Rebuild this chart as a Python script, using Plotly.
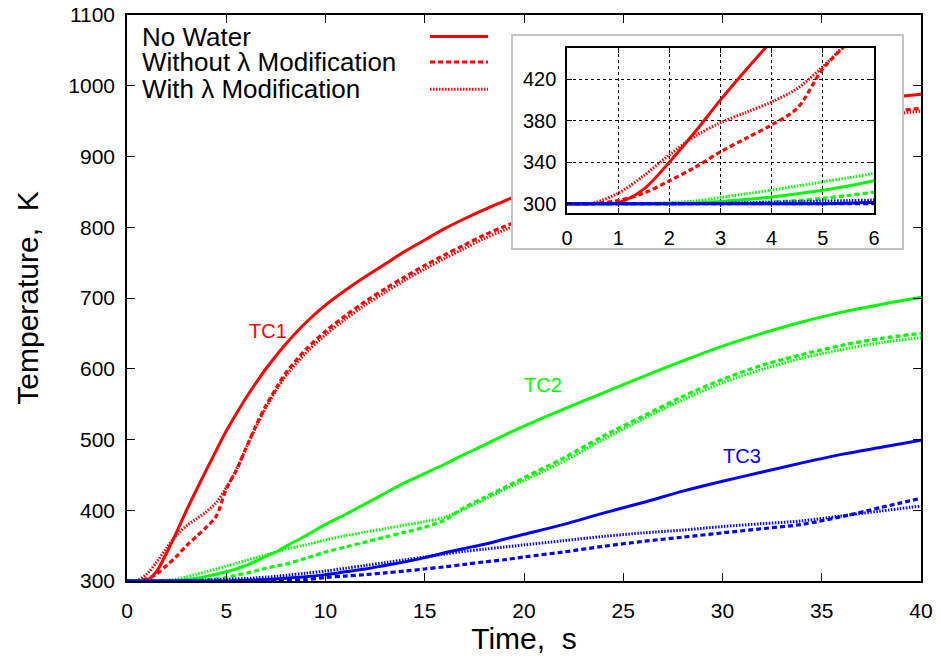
import plotly.graph_objects as go

# Time grid, s
time_s = [0, 0.5, 1, 1.5, 2, 2.5, 3, 3.5, 4, 4.5, 5, 5.5, 6, 6.5, 7, 7.5, 8,
          9, 10, 11, 12, 13, 14, 15, 16, 17, 18, 19, 20,
          22, 24, 26, 28, 30, 32, 34, 36, 38, 40]

# TC1 temperatures, K
tc1_no_water = [300, 300, 301, 314, 340, 369, 400, 429, 457, 485, 512, 536, 559, 580, 600, 618, 635,
                665, 690, 711, 730, 748, 766, 782, 798, 812, 825, 837, 849,
                872, 893, 912, 929, 944, 957, 967, 975, 982, 988]
tc1_without_mod = [300, 300, 303, 310, 322, 335, 350, 363, 376, 392, 430, 456, 488, 520, 548, 572, 594,
                   627, 653, 675, 695, 713, 730, 746, 761, 775, 789, 801, 812,
                   839, 863, 884, 904, 920, 934, 945, 954, 962, 968]
tc1_with_mod = [300, 300.5, 310, 327, 347, 365, 378, 388, 398, 411, 432, 457, 488, 518, 545, 569, 590,
                622, 648, 670, 690, 708, 725, 741, 756, 770, 784, 796, 807,
                834, 858, 879, 899, 915, 929, 940, 950, 958, 964]

# TC2 temperatures, K
tc2_no_water = [300, 300, 300, 300, 300, 300.5, 302, 304, 306.5, 309.5, 313, 317, 322, 328, 335, 341, 349,
                364, 380, 394, 409, 424, 439, 452, 465, 479, 492, 506, 519,
                543, 566, 589, 611, 632, 650, 666, 680, 691, 701]
tc2_without_mod = [300, 300, 300, 300, 300, 300, 300, 300.5, 301.5, 303, 305, 308, 311, 314.5, 318, 321, 324,
                   332, 341, 348, 355, 362, 369, 376, 386, 404, 418, 432, 446,
                   474, 505, 533, 561, 585, 605, 620, 633, 643, 650]
tc2_with_mod = [300, 300, 300, 300, 301, 302.5, 306, 309.5, 313, 317, 321, 325, 329, 333, 337, 341, 345,
                351, 358, 364, 369, 374, 379, 384, 390, 402, 415, 429, 442,
                469, 500, 529, 556, 580, 599, 615, 627, 637, 644]

# TC3 temperatures, K
tc3_no_water = [300, 300, 300, 300, 300, 300, 300, 300, 300, 300, 300, 300.5, 301, 301.5, 302, 303, 304,
                306, 309, 313, 317, 322, 327, 333, 340, 346, 352, 359, 366,
                380, 396, 411, 427, 441, 454, 467, 479, 489, 499]
tc3_without_mod = [300, 300, 300, 300, 300, 300, 300, 300, 300, 300, 300, 300, 300, 300, 300, 300, 301,
                   302, 305, 307, 309, 311.5, 314, 317, 320, 323.5, 327, 330, 334,
                   341, 349, 356, 362, 368, 374, 380, 391, 404, 417]
tc3_with_mod = [300, 300, 300, 300, 300, 300, 300.5, 301, 301.5, 302, 302.5, 303, 303.5, 304.5, 305.5, 306.5, 308,
                311, 314, 318, 322, 326, 330, 334, 338, 342, 345, 348, 351,
                357, 363, 368, 372, 377, 381, 385, 392, 399, 406]

x_ticks_main = [0, 5, 10, 15, 20, 25, 30, 35, 40]
y_ticks_main = [300, 400, 500, 600, 700, 800, 900, 1000, 1100]
x_ticks_inset = [0, 1, 2, 3, 4, 5, 6]
y_ticks_inset = [300, 340, 380, 420]

legend_labels = ["No Water", "Without \u03bb Modification", "With \u03bb Modification"]
probe_labels = ["TC1", "TC2", "TC3"]
probe_label_pos = [(7.1, 653), (20.96, 577), (30.98, 477)]

RED, GREEN, BLUE = "#ff0000", "#00ff00", "#0000ff"
FONT = "Liberation Sans, Arial, Helvetica, sans-serif"
DASH = "5px,3px"
DOT = "1.5px,1.5px"

groups = [
    (RED, tc1_no_water, tc1_without_mod, tc1_with_mod),
    (GREEN, tc2_no_water, tc2_without_mod, tc2_with_mod),
    (BLUE, tc3_no_water, tc3_without_mod, tc3_with_mod),
]

fig = go.Figure()

# main panel and zoomed panel share the same series
for xa, ya in (("x", "y"), ("x3", "y3")):
    for color, solid, dashed, dotted in groups:
        for values, dash, width in ((dotted, DOT, 3), (dashed, DASH, 3.2), (solid, "solid", 3)):
            fig.add_trace(go.Scatter(x=time_s, y=values, mode="lines", xaxis=xa, yaxis=ya,
                                     line=dict(color=color, width=width, dash=dash,
                                               shape="spline", smoothing=0.9),
                                     showlegend=False, hoverinfo="skip"))

# empty trace for the framed box that holds the zoomed panel
fig.add_trace(go.Scatter(x=[], y=[], xaxis="x2", yaxis="y2", showlegend=False, hoverinfo="skip"))

axis_common = dict(showline=True, linecolor="black", mirror="ticks", ticks="inside",
                   tickcolor="black", zeroline=False, showgrid=False, automargin=False,
                   tickfont=dict(family=FONT, size=21, color="black"))
inset_common = dict(ticklen=5, tickwidth=1, linewidth=1.5, automargin=False,
                    showline=True, linecolor="black", mirror="ticks", ticks="inside",
                    tickcolor="black", zeroline=False, showgrid=True, gridcolor="black",
                    griddash="dot", gridwidth=1,
                    tickfont=dict(family=FONT, size=20, color="black"))
frame_common = dict(range=[0, 1], showline=True, mirror=True, linecolor="#c4c4c4", linewidth=1.5,
                    ticks="", showticklabels=False, showgrid=False, zeroline=False,
                    fixedrange=True, automargin=False)

fig.update_layout(
    width=941, height=660,
    margin=dict(l=127, r=20, t=15, b=79),
    paper_bgcolor="white", plot_bgcolor="white",
    font=dict(family=FONT, color="black"),
    xaxis=dict(domain=[0, 1], range=[0, 40], tickvals=x_ticks_main, ticklen=8, tickwidth=1,
               linewidth=1.5, anchor="y", ticklabelstandoff=10,
               title=dict(text="Time,\u00a0 s", font=dict(family=FONT, size=30), standoff=6),
               **axis_common),
    yaxis=dict(domain=[0, 1], range=[300, 1100], tickvals=y_ticks_main, ticklen=8, tickwidth=1,
               linewidth=1.5, anchor="x", ticklabelstandoff=6,
               title=dict(text="Temperature,\u00a0 K", font=dict(family=FONT, size=30), standoff=21),
               **axis_common),
    xaxis2=dict(domain=[0.4861, 0.9761], anchor="y2", **frame_common),
    yaxis2=dict(domain=[0.5883, 0.9629], anchor="x2", **frame_common),
    xaxis3=dict(domain=[0.5542, 0.9408], range=[0, 6], tickvals=x_ticks_inset, anchor="y3",
                ticklabelstandoff=6, **inset_common),
    yaxis3=dict(domain=[0.6502, 0.9417], range=[291, 450], tickvals=y_ticks_inset, anchor="x3",
                ticklabelstandoff=5, **inset_common),
)

# probe labels
for (lx, ly), text, color in zip(probe_label_pos, probe_labels, (RED, GREEN, BLUE)):
    fig.add_annotation(x=lx, y=ly, xref="x", yref="y", text=text, showarrow=False,
                       font=dict(family=FONT, size=20, color=color))

# key: text on the left, line sample on the right
key_rows_y = [0.962, 0.917, 0.869]
key_dash = ["solid", DASH, DOT]
for text, yy, dash in zip(legend_labels, key_rows_y, key_dash):
    fig.add_annotation(x=0.0164, y=yy, xref="paper", yref="paper", text=text, showarrow=False,
                       xanchor="left", yanchor="middle",
                       font=dict(family=FONT, size=26, color="black"))
    fig.add_shape(type="line", xref="paper", yref="paper", x0=0.3816, x1=0.4547, y0=yy, y1=yy,
                  line=dict(color=RED, width=3, dash=dash), layer="above")

fig.write_html("out.html")
